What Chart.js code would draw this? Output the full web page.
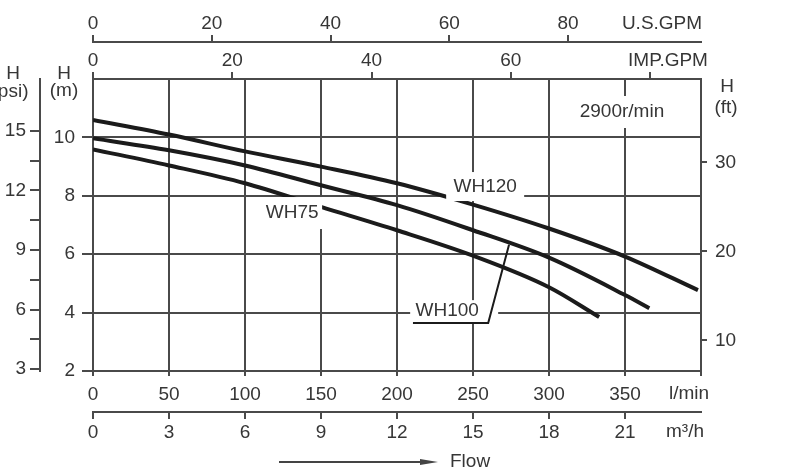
<!DOCTYPE html>
<html>
<head>
<meta charset="utf-8">
<script src="https://cdn.jsdelivr.net/npm/chart.js@4.4.1/dist/chart.umd.min.js"></script>
<style>
  html, body { margin: 0; padding: 0; background: #fff; }
  #wrap { width: 800px; height: 473px; position: relative; }
</style>
</head>
<body>
<div id="wrap"><canvas id="pumpChart"></canvas></div>
<script>
// pump curves, flow in l/min, head in m
const wh120Flow = [0, 50, 100, 150, 200, 250, 300, 350, 398];
const wh120Head = [10.6, 10.1, 9.52, 9.0, 8.43, 7.7, 6.88, 5.92, 4.77];
const wh100Flow = [0, 50, 100, 150, 200, 250, 300, 350, 366];
const wh100Head = [9.97, 9.56, 9.04, 8.36, 7.68, 6.82, 5.88, 4.6, 4.15];
const wh75Flow = [0, 50, 100, 150, 200, 250, 300, 333];
const wh75Head = [9.59, 9.04, 8.43, 7.62, 6.82, 5.95, 4.87, 3.85];

// axis ticks
const lminTicks = [0, 50, 100, 150, 200, 250, 300, 350, 400];
const m3hTicks = [0, 3, 6, 9, 12, 15, 18, 21];
const usGpmTicks = [0, 20, 40, 60, 80];
const impGpmTicks = [0, 20, 40, 60, 80];
const headMTicks = [2, 4, 6, 8, 10];
const psiTicks = [3, 4.5, 6, 7.5, 9, 10.5, 12, 13.5, 15];
const ftTicks = [10, 20, 30];

const gridColor = '#4a4a4a';
const inkColor = '#1b1b1b';
const textColor = '#363636';
const fontFamily = '"Liberation Sans", Arial, sans-serif';

Chart.defaults.font.family = fontFamily;
Chart.defaults.font.size = 19;
Chart.defaults.color = textColor;

function fixedTicks(list) {
    return s => { s.ticks = list.map(v => ({ value: v })); };
}
function boxSize(size) {
    return s => { if (s.isHorizontal()) s.height = size; else s.width = size; };
}
function curve(label, flow, head) {
    return {
        label: label,
        data: flow.map((f, i) => ({ x: f, y: head[i] })),
        borderColor: inkColor,
        borderWidth: 4,
        pointRadius: 0,
        fill: false,
        cubicInterpolationMode: 'monotone',
        xAxisID: 'x',
        yAxisID: 'y'
    };
}

// labels, leader line and the extra unit captions
const notesPlugin = {
    id: 'notes',
    afterDatasetsDraw(chart) {
        const ctx = chart.ctx;
        const x = chart.scales.x, y = chart.scales.y;
        const area = chart.chartArea;

        function tag(text, lmin, m, left, right, up, down) {
            const px = x.getPixelForValue(lmin), py = y.getPixelForValue(m);
            ctx.fillStyle = '#fff';
            ctx.fillRect(px - left, py - up, left + right, up + down);
            ctx.fillStyle = textColor;
            ctx.font = '19px ' + fontFamily;
            ctx.textAlign = 'center';
            ctx.textBaseline = 'middle';
            ctx.fillText(text, px, py);
        }

        ctx.save();
        tag('WH120', 258, 8.3, 39, 39, 15, 14);
        tag('WH75', 131, 7.41, 30, 30, 16, 16);
        tag('WH100', 233, 4.05, 37, 51, 11, 11);
        tag('2900r/min', 348, 10.87, 47, 47, 16, 16);

        // WH100 leader
        ctx.strokeStyle = inkColor;
        ctx.lineWidth = 2;
        ctx.beginPath();
        ctx.moveTo(x.getPixelForValue(210.5), y.getPixelForValue(3.64));
        ctx.lineTo(x.getPixelForValue(260), y.getPixelForValue(3.64));
        ctx.lineTo(x.getPixelForValue(273.7), y.getPixelForValue(6.32));
        ctx.stroke();

        // unit captions
        ctx.fillStyle = textColor;
        ctx.font = '19px ' + fontFamily;
        ctx.textAlign = 'center';
        ctx.textBaseline = 'middle';
        ctx.fillText('U.S.GPM', area.right - 39, chart.scales.usGpm.bottom - 18);
        ctx.fillText('IMP.GPM', area.right - 33, chart.scales.impGpm.bottom - 18);
        ctx.fillText('l/min', area.right - 12, x.top + 23);
        ctx.fillText('m\u00B3/h', area.right - 16, chart.scales.m3h.top + 20);

        ctx.textBaseline = 'alphabetic';
        ctx.fillText('H', 13, 79);
        ctx.fillText('(psi)', 10, 97);
        ctx.fillText('H', 64, 79);
        ctx.fillText('(m)', 64, 96);
        ctx.fillText('H', 727, 92);
        ctx.fillText('(ft)', 726, 113);

        // flow arrow
        ctx.strokeStyle = '#444';
        ctx.lineWidth = 2;
        ctx.beginPath();
        ctx.moveTo(279, 462);
        ctx.lineTo(424, 462);
        ctx.stroke();
        ctx.fillStyle = '#444';
        ctx.beginPath();
        ctx.moveTo(420, 459);
        ctx.lineTo(438, 462);
        ctx.lineTo(420, 465);
        ctx.closePath();
        ctx.fill();
        ctx.fillStyle = textColor;
        ctx.font = '19px ' + fontFamily;
        ctx.textAlign = 'left';
        ctx.textBaseline = 'middle';
        ctx.fillText('Flow', 450, 462);
        ctx.restore();
    }
};

document.addEventListener('DOMContentLoaded', () => {
    const ctx = document.getElementById('pumpChart').getContext('2d');

    const gridLine = { color: gridColor, lineWidth: 2 };
    const border = { color: gridColor, width: 2 };
    const plainTicks = { autoSkip: false, maxRotation: 0, minRotation: 0 };

    const options = {
        responsive: true,
        maintainAspectRatio: false,
        animation: false,
        events: [],
        layout: { padding: 0 },
        plugins: {
            legend: { display: false },
            tooltip: { enabled: false }
        },
        scales: {
            x: {
                type: 'linear', axis: 'x', position: 'bottom', weight: 0,
                min: 0, max: 400,
                afterBuildTicks: fixedTicks(lminTicks), afterFit: boxSize(41),
                grid: { ...gridLine, tickLength: 5 },
                border: border,
                ticks: { ...plainTicks, padding: 7, callback: v => v === 400 ? '' : v }
            },
            m3h: {
                type: 'linear', axis: 'x', position: 'bottom', weight: 1,
                min: 0, max: 24,
                afterBuildTicks: fixedTicks(m3hTicks), afterFit: boxSize(61),
                grid: { ...gridLine, drawOnChartArea: false, tickLength: 7 },
                border: border,
                ticks: { ...plainTicks, padding: 2 }
            },
            impGpm: {
                type: 'linear', axis: 'x', position: 'top', weight: 0,
                min: 0, max: 87.3,
                afterBuildTicks: fixedTicks(impGpmTicks), afterFit: boxSize(37),
                grid: { ...gridLine, drawOnChartArea: false, tickLength: 7 },
                border: border,
                ticks: { ...plainTicks, padding: 0, callback: v => v === 80 ? '' : v }
            },
            usGpm: {
                type: 'linear', axis: 'x', position: 'top', weight: 1,
                min: 0, max: 102.4,
                afterBuildTicks: fixedTicks(usGpmTicks), afterFit: boxSize(42),
                grid: { ...gridLine, drawOnChartArea: false, tickLength: 7 },
                border: border,
                ticks: { ...plainTicks, padding: 0 }
            },
            y: {
                type: 'linear', axis: 'y', position: 'left', weight: 0,
                min: 2, max: 12,
                afterBuildTicks: fixedTicks(headMTicks), afterFit: boxSize(53),
                grid: { ...gridLine, tickLength: 11 },
                border: border,
                ticks: { ...plainTicks, padding: 7 }
            },
            psi: {
                type: 'linear', axis: 'y', position: 'left', weight: 1,
                min: 2.9, max: 17.62,
                afterBuildTicks: fixedTicks(psiTicks), afterFit: boxSize(40),
                grid: { ...gridLine, drawOnChartArea: false, tickLength: 10 },
                border: border,
                ticks: { ...plainTicks, padding: 4, callback: v => v % 3 === 0 ? v : '' }
            },
            ft: {
                type: 'linear', axis: 'y', position: 'right', weight: 0,
                min: 2 / 0.3048, max: 12 / 0.3048,
                afterBuildTicks: fixedTicks(ftTicks), afterFit: boxSize(99),
                grid: { ...gridLine, drawOnChartArea: false, tickLength: 6 },
                border: border,
                ticks: { ...plainTicks, padding: 8 }
            }
        }
    };

    new Chart(ctx, {
        type: 'line',
        data: {
            datasets: [
                curve('WH120', wh120Flow, wh120Head),
                curve('WH100', wh100Flow, wh100Head),
                curve('WH75', wh75Flow, wh75Head)
            ]
        },
        options: options,
        plugins: [notesPlugin]
    });
});
</script>
</body>
</html>
